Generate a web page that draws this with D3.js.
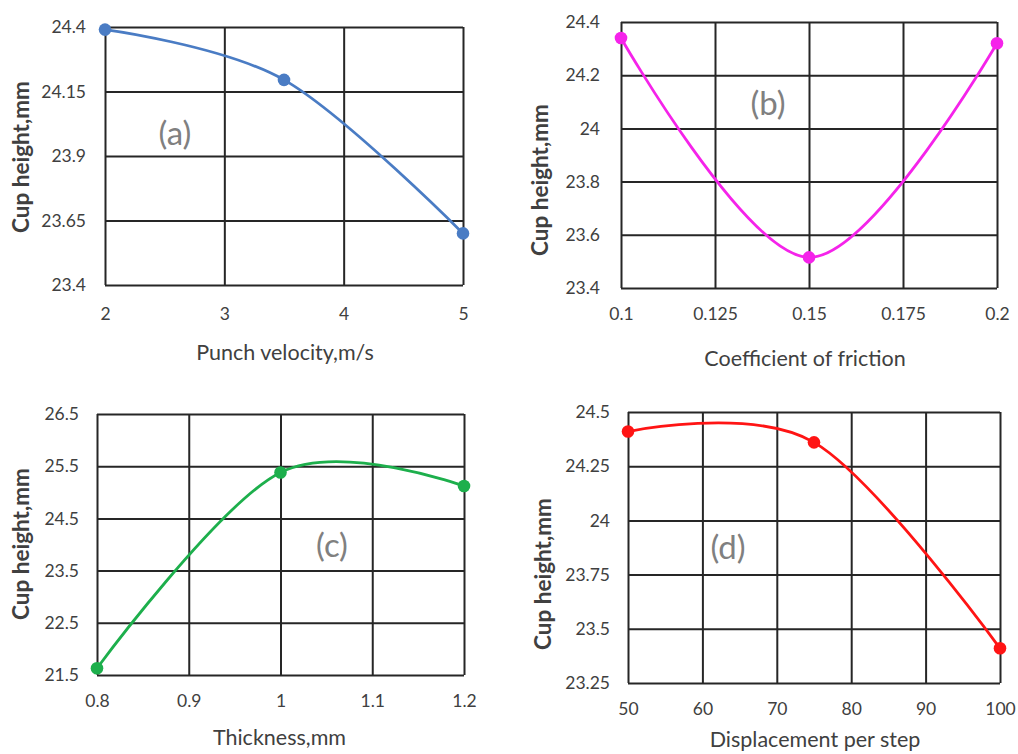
<!DOCTYPE html>
<html>
<head>
<meta charset="utf-8">
<script src="https://cdn.jsdelivr.net/npm/d3@7"></script>
<style>
  body { margin: 0; background: #fff; }
  svg { display: block; }
</style>
</head>
<body>
<script>
// (a) punch velocity
var velocity = [2, 3.5, 5];
var heightA = [24.39, 24.195, 23.6];
var ticksAx = [2, 3, 4, 5];
var ticksAy = [23.4, 23.65, 23.9, 24.15, 24.4];

// (b) coefficient of friction
var friction = [0.1, 0.15, 0.2];
var heightB = [24.34, 23.515, 24.32];
var ticksBx = [0.1, 0.125, 0.15, 0.175, 0.2];
var ticksBy = [23.4, 23.6, 23.8, 24, 24.2, 24.4];

// (c) thickness
var thickness = [0.8, 1.0, 1.2];
var heightC = [21.63, 25.38, 25.12];
var ticksCx = [0.8, 0.9, 1, 1.1, 1.2];
var ticksCy = [21.5, 22.5, 23.5, 24.5, 25.5, 26.5];

// (d) displacement per step
var displacement = [50, 75, 100];
var heightD = [24.41, 24.36, 23.41];
var ticksDx = [50, 60, 70, 80, 90, 100];
var ticksDy = [23.25, 23.5, 23.75, 24, 24.25, 24.5];

var yTitle = "Cup height,mm";

var svg = d3.select("body").append("svg")
  .attr("width", 1018)
  .attr("height", 754);

var FONT = "Lato, 'Open Sans', sans-serif";

function panel(o) {
  var g = svg.append("g");
  var x = d3.scaleLinear().domain(d3.extent(o.xt)).range([o.l, o.r]);
  var y = d3.scaleLinear().domain(d3.extent(o.yt)).range([o.b, o.t]);

  // grid via axes
  var gx = g.append("g")
    .attr("transform", "translate(0," + o.b + ")")
    .call(d3.axisBottom(x).tickValues(o.xt).tickSize(-(o.b - o.t)).tickPadding(o.xpad).tickFormat(String));
  var gy = g.append("g")
    .attr("transform", "translate(" + o.l + ",0)")
    .call(d3.axisLeft(y).tickValues(o.yt).tickSize(-(o.r - o.l)).tickPadding(o.ypad).tickFormat(String));

  [gx, gy].forEach(function(a) {
    a.select(".domain").remove();
    a.selectAll(".tick line")
      .attr("stroke", "#262626")
      .attr("stroke-width", 2);
    a.selectAll(".tick text")
      .attr("fill", "#404040")
      .style("font-family", FONT)
      .style("font-size", "17.5px");
  });

  var pts = o.xs.map(function(d, i) { return [d, o.ys[i]]; });

  var line = d3.line()
    .x(function(d) { return x(d[0]); })
    .y(function(d) { return y(d[1]); })
    .curve(d3.curveCardinal.tension(0));

  g.append("path")
    .datum(pts)
    .attr("d", line)
    .attr("fill", "none")
    .attr("stroke", o.color)
    .attr("stroke-width", 2.8);

  g.selectAll("circle.pt")
    .data(pts)
    .enter().append("circle")
      .attr("class", "pt")
      .attr("cx", function(d) { return x(d[0]); })
      .attr("cy", function(d) { return y(d[1]); })
      .attr("r", 6.3)
      .attr("fill", o.color);

  g.append("text")
    .attr("x", (o.l + o.r) / 2 + o.tdx)
    .attr("y", o.ty)
    .attr("text-anchor", "middle")
    .attr("fill", "#404040")
    .style("font-family", FONT)
    .style("font-size", "21.5px")
    .text(o.title);

  g.append("text")
    .attr("transform", "translate(" + o.yx + "," + o.yy + ") rotate(-90)")
    .attr("text-anchor", "middle")
    .attr("fill", "#404040")
    .style("font-family", FONT)
    .style("font-size", "22.5px")
    .style("font-weight", "bold")
    .text(yTitle);

  g.append("text")
    .attr("x", o.lx)
    .attr("y", o.ly)
    .attr("text-anchor", "middle")
    .attr("fill", "#808080")
    .style("font-family", FONT)
    .style("font-size", "33px")
    .text(o.label);
}

panel({ xs: velocity, ys: heightA, xt: ticksAx, yt: ticksAy, color: "#4a7cc4",
  l: 105, r: 463, t: 27, b: 285, xpad: 23, ypad: 19,
  title: "Punch velocity,m/s", tdx: 1, ty: 360, yx: 29, yy: 157,
  label: "(a)", lx: 175, ly: 145 });

panel({ xs: friction, ys: heightB, xt: ticksBx, yt: ticksBy, color: "#f523ea",
  l: 621, r: 997, t: 22, b: 288, xpad: 20, ypad: 21,
  title: "Coefficient of friction", tdx: -4, ty: 366, yx: 548, yy: 180,
  label: "(b)", lx: 768, ly: 115 });

panel({ xs: thickness, ys: heightC, xt: ticksCx, yt: ticksCy, color: "#1daf4c",
  l: 97, r: 464, t: 414, b: 675, xpad: 20, ypad: 18,
  title: "Thickness,mm", tdx: -1, ty: 745, yx: 29, yy: 544,
  label: "(c)", lx: 332, ly: 557 });

panel({ xs: displacement, ys: heightD, xt: ticksDx, yt: ticksDy, color: "#ff1414",
  l: 628, r: 1000, t: 412, b: 683, xpad: 20, ypad: 18,
  title: "Displacement per step", tdx: 1, ty: 747, yx: 551, yy: 574,
  label: "(d)", lx: 728, ly: 559 });
</script>
</body>
</html>
